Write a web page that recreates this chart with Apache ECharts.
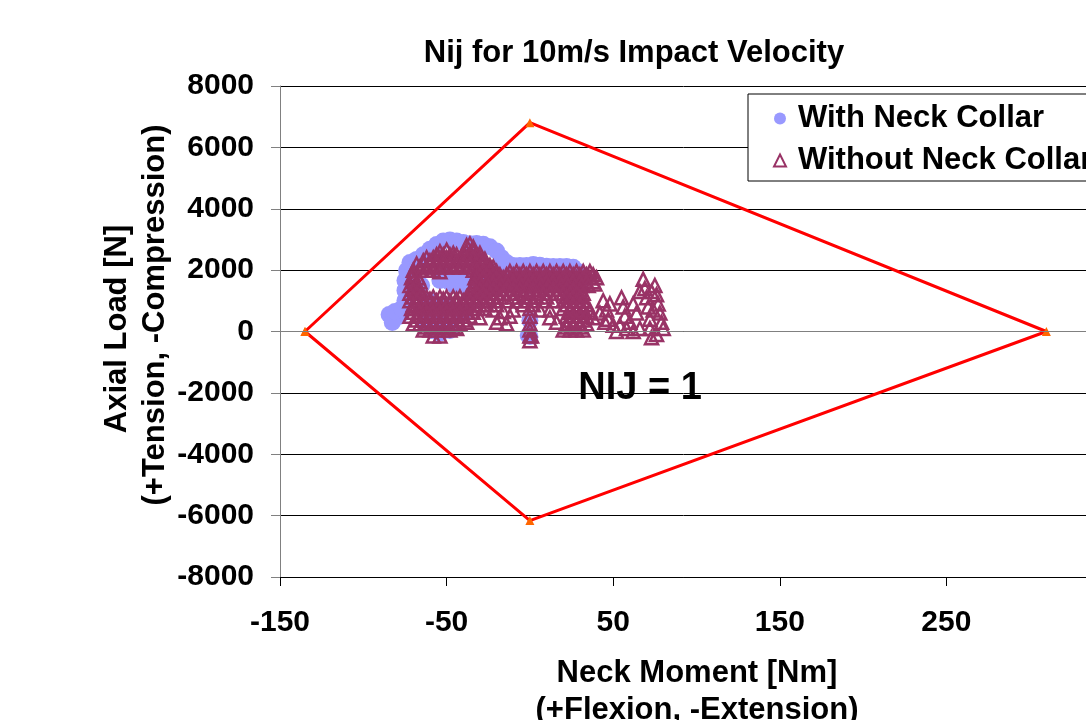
<!DOCTYPE html>
<html>
<head>
<meta charset="utf-8">
<title>Nij for 10m/s Impact Velocity</title>
<script src="https://cdn.jsdelivr.net/npm/echarts@6/dist/echarts.min.js"></script>
<style>
  html, body { margin: 0; padding: 0; background: #fff; }
  #chart { width: 1086px; height: 720px; }
</style>
</head>
<body>
<div id="chart"></div>
<script>
// [neck moment Nm, axial load N]
const withCollar = [
  // left lobe
  [-84.5, 550], [-78.5, 490], [-82.6, 290], [-81, 650], [-77, 750],
  // left edge going up
  [-75, 1010], [-75, 1340], [-75, 1660], [-74, 1990], [-72, 2250],
  // top edge
  [-68, 2350], [-64, 2500], [-60, 2680], [-56, 2835], [-52, 2950],
  [-48, 2980], [-44, 2950], [-40, 2900], [-36, 2860], [-32, 2870],
  [-28, 2840], [-24, 2760], [-20, 2620], [-17, 2400], [-14, 2250],
  [-10, 2150], [-6, 2150], [-2, 2150], [2, 2180], [6, 2160],
  [10, 2130], [14, 2120], [18, 2120], [22, 2120], [26, 2090],
  [29, 1950],
  // inside the loop
  [-54, 1660], [-48, 1600], [-51, 1825], [-45, 1500], [-42, 1700],
  [-40, 1500], [-38, 1650], [-30, 1800], [-20, 2000], [-10, 1700], [0, 1500],
  [10, 1800], [20, 1700], [30, 1600], [-60, 1000], [-50, 800],
  [-40, 600], [-65, 1500],
  // bottom
  [-59, 30], [-54, -60], [-48, 30], [-56, 360], [-63, 290],
  [0, -160], [0, 360], [-1, -130]
];

const withoutCollar = [
  // upper arc
  [-38, 2800], [-36, 2850], [-34, 2750],
  [-54, 2600], [-50, 2650], [-46, 2550], [-38, 2600], [-34, 2600], [-30, 2550],
  [-56, 2500], [-52, 2500], [-48, 2500], [-44, 2500], [-40, 2500], [-36, 2500], [-32, 2500],
  [-62, 2400], [-58, 2400], [-54, 2400], [-50, 2400], [-46, 2400], [-42, 2350],
  [-38, 2400], [-34, 2400], [-30, 2400], [-27, 2350],
  [-64, 2300], [-60, 2300], [-56, 2300], [-52, 2300], [-48, 2300], [-44, 2300],
  [-40, 2300], [-36, 2300], [-32, 2300], [-28, 2300],
  [-68, 2200], [-64, 2200], [-60, 2200], [-56, 2200], [-52, 2200], [-48, 2200],
  [-44, 2150], [-40, 2200], [-36, 2200], [-32, 2200], [-28, 2200], [-24, 2150],
  [-66, 2100], [-62, 2100], [-58, 2100], [-54, 2100], [-50, 2100], [-46, 2100],
  [-42, 2100], [-38, 2100], [-34, 2100], [-30, 2100], [-26, 2100], [-22, 2100],
  [-70, 2000], [-66, 2000], [-62, 2000], [-58, 2000], [-54, 1950], [-34, 2000],
  [-32, 2000], [-28, 2000], [-24, 2000], [-20, 1950],
  // middle, dense
  [-12, 1950], [-8, 1950], [-4, 1950], [0, 1950], [4, 1950], [8, 1950],
  [12, 1950], [16, 1950], [20, 1950], [24, 1950], [28, 1950], [32, 1950], [36, 1950],
  [-70, 1850], [-32, 1850], [-30, 1850], [-26, 1850], [-22, 1850], [-18, 1850],
  [-14, 1850], [-10, 1850], [-6, 1850], [-2, 1850], [2, 1850], [6, 1850],
  [10, 1850], [14, 1850], [18, 1850], [22, 1850], [26, 1850], [30, 1850],
  [34, 1850], [38, 1850],
  [-71, 1750], [-67, 1750], [-33, 1750], [-32, 1750], [-28, 1750], [-24, 1750],
  [-20, 1750], [-16, 1750], [-12, 1750], [-8, 1750], [-4, 1750], [0, 1750],
  [4, 1750], [8, 1750], [12, 1750], [16, 1750], [20, 1750], [24, 1750],
  [28, 1750], [32, 1750], [36, 1750], [40, 1750],
  [-70, 1625], [-66, 1625], [-33, 1625], [-30, 1625], [-26, 1625], [-22, 1625],
  [-18, 1625], [-14, 1625], [-10, 1625], [-6, 1625], [-2, 1625], [2, 1625],
  [6, 1625], [10, 1625], [14, 1625], [18, 1625], [22, 1625], [26, 1625],
  [30, 1625], [34, 1625], [38, 1625],
  [-72, 1500], [-68, 1500], [-34, 1500], [-33, 1500], [-29, 1500], [-25, 1500],
  [-21, 1500], [-17, 1500], [-13, 1500], [-9, 1500], [-5, 1500], [-1, 1500],
  [3, 1500], [7, 1500], [11, 1500], [15, 1500], [19, 1500], [23, 1500],
  [27, 1500], [31, 1500], [35, 1500], [39, 1550],
  [-70, 1375], [-66, 1375], [-34, 1375], [-30, 1375], [-26, 1375], [-22, 1375],
  [-18, 1375], [-14, 1375], [-10, 1375], [-6, 1375], [-2, 1375], [2, 1375],
  [6, 1375], [10, 1375], [14, 1375], [18, 1375], [22, 1375], [26, 1375], [30, 1375],
  [-72, 1250], [-68, 1250], [-36, 1250], [-32, 1250], [-28, 1250], [-24, 1250],
  [-20, 1250], [-16, 1250], [-12, 1250], [-8, 1250], [-4, 1250], [0, 1250],
  [4, 1250], [8, 1250], [12, 1250], [16, 1250], [20, 1250], [24, 1250],
  [28, 1250], [32, 1250],
  [-70, 1125], [-66, 1125], [-62, 1125], [-58, 1125], [-54, 1125], [-50, 1125],
  [-46, 1125], [-42, 1125], [-38, 1125], [-34, 1125], [-30, 1125], [-26, 1125],
  [-22, 1125], [-18, 1125], [-10, 1125], [-4, 1125], [0, 1125], [4, 1125],
  [10, 1125], [22, 1125], [26, 1125], [30, 1125],
  // lower left block and lower middle
  [-72, 1000], [-68, 1000], [-64, 1000], [-60, 1050], [-56, 1000], [-52, 1050],
  [-48, 1000], [-44, 1050], [-40, 1000], [-36, 1000], [-32, 1000], [-28, 1000],
  [-24, 1000], [-20, 1000], [-14, 1000], [-8, 1000], [-2, 1000], [2, 1000],
  [8, 1000], [14, 1000], [20, 1000], [24, 1000], [28, 1000], [32, 1000],
  [-70, 875], [-66, 875], [-62, 875], [-58, 875], [-54, 875], [-50, 875],
  [-46, 875], [-42, 875], [-38, 875], [-34, 875], [-30, 875], [-26, 875],
  [-20, 875], [-4, 875], [2, 875], [22, 875], [26, 875], [30, 875], [34, 875],
  [-71, 750], [-67, 750], [-63, 750], [-59, 750], [-55, 750], [-51, 750],
  [-47, 750], [-43, 750], [-39, 750], [-35, 750], [-31, 750], [-27, 750],
  [-22, 700], [-16, 650], [-10, 700], [0, 750], [6, 700], [12, 700],
  [20, 750], [24, 750], [28, 750], [32, 750], [36, 700],
  [-70, 625], [-66, 625], [-62, 625], [-58, 625], [-54, 625], [-50, 625],
  [-46, 625], [-42, 625], [-38, 625], [-34, 625], [24, 625], [28, 625],
  [32, 625], [36, 625],
  [-72, 500], [-68, 500], [-64, 500], [-60, 500], [-56, 500], [-52, 500],
  [-48, 500], [-44, 500], [-40, 500], [-36, 500], [-30, 450], [-18, 450],
  [-12, 500], [0, 500], [12, 450], [22, 500], [26, 500], [30, 500],
  [34, 500], [38, 450],
  [-68, 375], [-64, 375], [-60, 375], [-56, 375], [-52, 375], [-48, 375],
  [-44, 375], [-40, 375], [24, 375], [28, 375], [32, 375],
  [-70, 250], [-66, 250], [-62, 250], [-58, 250], [-54, 250], [-50, 250],
  [-46, 250], [-42, 250], [-38, 300], [-20, 300], [-14, 250], [0, 250],
  [16, 300], [22, 250], [26, 250], [30, 250], [34, 250],
  [-62, 150], [-58, 150], [-54, 150], [-50, 150], [-46, 150], [22, 150],
  [26, 150], [30, 150],
  [-64, 50], [-60, 50], [-56, 50], [-52, 50], [-48, 50], [-44, 100],
  [0, 50], [20, 50], [24, 50], [28, 50], [32, 50],
  [-58, -150], [-54, -150], [0, -150], [1, -150], [0, -300],
  // scattered points to the right
  [44, 1000], [46, 700], [47, 400], [50, 200], [52, 0],
  [55, 1100], [56, 800], [57, 500], [60, 300], [62, 900],
  [64, 600], [66, 100], [68, 1700], [69, 1400], [70, 1100],
  [71, 800], [72, 400], [72, 100], [73, -200], [75, 1500],
  [76, 1200], [77, 900], [78, 600], [79, 300], [80, 100],
  [58, 100], [62, 0], [76, -100], [45, 300], [42, 600],
  [48, 900], [54, 200], [66, 1300], [73, 1300], [74, 700]
];

// Nij = 1 envelope corners
const nijLimit = [[-135, 0], [0, 6806], [310, 0], [0, -6160], [-135, 0]];

const xMin = -150, xMax = 350, xStep = 100;
const yMin = -8000, yMax = 8000, yStep = 2000;

const FONT = 'Arial, "Liberation Sans", sans-serif';

const chart = echarts.init(document.getElementById("chart"));

const option = {
  animation: false,
  backgroundColor: "#fff",
  title: {
    text: "Nij for 10m/s Impact Velocity",
    left: 629,
    top: 33,
    textAlign: "center",
    textStyle: { fontFamily: FONT, fontWeight: "bold", fontSize: 31, color: "#000" }
  },
  legend: {
    orient: "vertical",
    left: 748,
    top: 94,
    padding: [9, 10, 5, 25],
    itemGap: 11,
    itemWidth: 12,
    itemHeight: 12,
    backgroundColor: "#fff",
    borderColor: "#000",
    borderWidth: 1,
    borderRadius: 0,
    textStyle: {
      fontFamily: FONT, fontWeight: "bold", fontSize: 31, color: "#000",
      lineHeight: 31, padding: [0, 0, 0, 7]
    },
    data: ["With Neck Collar", "Without Neck Collar"]
  },
  // plot area runs past the right edge of the picture (350 is off-screen)
  grid: { left: 280, top: 86, bottom: 143, width: 833, outerBoundsMode: "none" },
  xAxis: {
    type: "value",
    min: xMin,
    max: xMax,
    interval: xStep,
    axisLine: { show: true, onZero: false, lineStyle: { color: "#000", width: 1 } },
    axisTick: { show: true, inside: false, length: 9, lineStyle: { color: "#000" } },
    axisLabel: { margin: 31, fontFamily: FONT, fontWeight: "bold", fontSize: 30, color: "#000" },
    splitLine: { show: false }
  },
  yAxis: {
    type: "value",
    min: yMin,
    max: yMax,
    interval: yStep,
    axisLine: { show: true, onZero: false, lineStyle: { color: "#808080", width: 1 } },
    axisTick: { show: true, inside: false, length: 9, lineStyle: { color: "#808080" } },
    axisLabel: {
      margin: 26, fontFamily: FONT, fontWeight: "bold", fontSize: 30, color: "#000",
      formatter: (v) => String(v)
    },
    splitLine: { show: true, lineStyle: { color: "#000", width: 1 } }
  },
  graphic: [
    {
      type: "text",
      x: 117, y: 329, rotation: Math.PI / 2,
      style: { text: "Axial Load [N]", align: "center", verticalAlign: "middle",
               font: "bold 31px " + FONT, fill: "#000" }
    },
    {
      type: "text",
      x: 155, y: 315, rotation: Math.PI / 2,
      style: { text: "(+Tension, -Compression)", align: "center", verticalAlign: "middle",
               font: "bold 31px " + FONT, fill: "#000" }
    },
    {
      type: "text",
      x: 697, y: 673,
      style: { text: "Neck Moment [Nm]", align: "center", verticalAlign: "middle",
               font: "bold 31px " + FONT, fill: "#000" }
    },
    {
      type: "text",
      x: 697, y: 710,
      style: { text: "(+Flexion, -Extension)", align: "center", verticalAlign: "middle",
               font: "bold 31px " + FONT, fill: "#000" }
    },
    {
      type: "text",
      x: 640, y: 389, z: 10,
      style: { text: "NIJ = 1", align: "center", verticalAlign: "middle",
               font: "bold 38px " + FONT, fill: "#000" }
    }
  ],
  series: [
    {
      name: "Nij = 1",
      type: "line",
      data: nijLimit,
      symbol: "triangle",
      symbolSize: 9,
      showAllSymbol: true,
      lineStyle: { color: "#ff0000", width: 3 },
      itemStyle: { color: "#ff6600" },
      silent: true,
      z: 1,
      markLine: {
        silent: true,
        symbol: "none",
        label: { show: false },
        lineStyle: { color: "#808080", width: 1, type: "solid" },
        data: [{ yAxis: 0 }]
      }
    },
    {
      name: "With Neck Collar",
      type: "scatter",
      data: withCollar,
      symbol: "circle",
      symbolSize: 17,
      itemStyle: { color: "#9999ff", opacity: 1 },
      z: 2
    },
    {
      name: "Without Neck Collar",
      type: "scatter",
      data: withoutCollar,
      symbol: "triangle",
      symbolSize: 13,
      itemStyle: { color: "rgba(0,0,0,0)", borderColor: "#993366", borderWidth: 2.5, opacity: 1 },
      z: 3
    }
  ]
};

chart.setOption(option);
</script>
</body>
</html>
